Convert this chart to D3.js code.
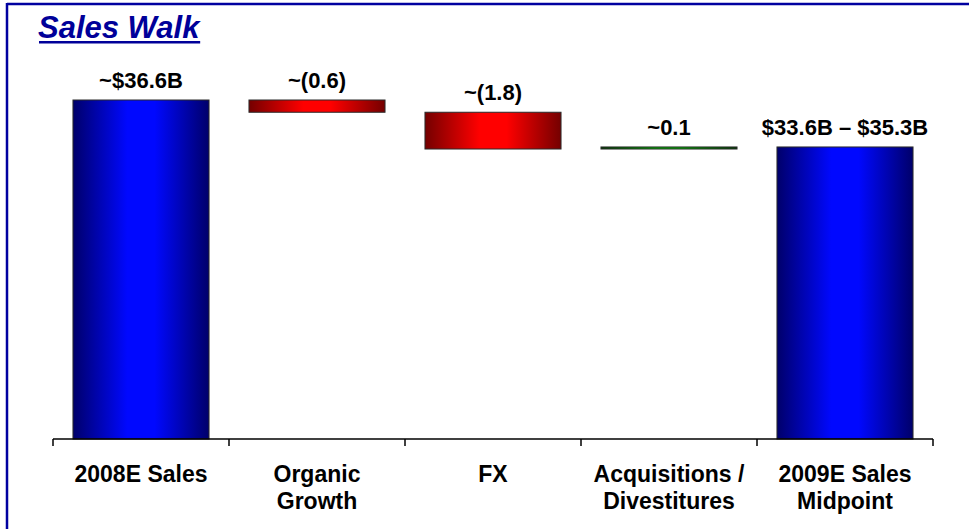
<!DOCTYPE html>
<html>
<head>
<meta charset="utf-8">
<script src="https://cdn.jsdelivr.net/npm/d3@7"></script>
<style>
  html, body { margin: 0; padding: 0; background: #fff; }
  svg { display: block; font-family: Arial, "Liberation Sans", sans-serif; }
</style>
</head>
<body>
<svg id="chart" width="969" height="529"></svg>
<script>
// Sales walk: 2008E sales bridged to the 2009E midpoint ($B)
const categories = ["2008E Sales", "Organic\nGrowth", "FX", "Acquisitions /\nDivestitures", "2009E Sales\nMidpoint"];
const values = [36.6, -0.6, -1.8, 0.1, 34.3];
const kinds = ["total", "delta", "delta", "delta", "total"];
const valueLabels = ["~$36.6B", "~(0.6)", "~(1.8)", "~0.1", "$33.6B \u2013 $35.3B"];
const yDomain = [20, 36.6];

const svg = d3.select("#chart");

// frame: top and left rules
svg.append("line").attr("x1", 7).attr("x2", 969).attr("y1", 4).attr("y2", 4)
  .attr("stroke", "#0000a0").attr("stroke-width", 2.5);
svg.append("line").attr("x1", 7).attr("x2", 7).attr("y1", 3).attr("y2", 529)
  .attr("stroke", "#0000a0").attr("stroke-width", 2.5);

// title
const title = svg.append("text")
  .attr("x", 38).attr("y", 38)
  .attr("font-size", 31).attr("font-weight", "bold").attr("font-style", "italic")
  .attr("fill", "#000099")
  .text("Sales Walk");
const tb = title.node().getBBox();
svg.append("rect").attr("x", tb.x + 1).attr("y", 41).attr("width", tb.width - 2).attr("height", 2.5)
  .attr("fill", "#000099");

// gradients: dark edges rising to a bright centre band
const defs = svg.append("defs");
function grad(id, edge, mid) {
  const g = defs.append("linearGradient").attr("id", id)
    .attr("x1", "0%").attr("x2", "100%").attr("y1", "0%").attr("y2", "0%");
  [[0, edge], [0.4, mid], [0.5, mid], [0.6, mid], [1, edge]].forEach(([o, c]) =>
    g.append("stop").attr("offset", o).attr("stop-color", c));
}
grad("gBlue", "#00006a", "#0008ff");
grad("gRed", "#740000", "#ff0000");
grad("gGreen", "#003800", "#00b000");

const x = d3.scaleBand().domain(categories).range([53, 933])
  .paddingInner(0.227).paddingOuter(0.1135);
const y = d3.scaleLinear().domain(yDomain).range([439, 100]);

// build waterfall segments
let running = 0;
const bars = categories.map((c, i) => {
  let lo, hi, fill;
  if (kinds[i] === "total") {
    running = values[i];
    lo = yDomain[0]; hi = values[i]; fill = "url(#gBlue)";
  } else {
    const start = running;
    running = start + values[i];
    lo = Math.min(start, running); hi = Math.max(start, running);
    fill = values[i] < 0 ? "url(#gRed)" : "url(#gGreen)";
  }
  return { c, lo, hi, fill, label: valueLabels[i] };
});

svg.selectAll("rect.bar").data(bars).join("rect")
  .attr("class", "bar")
  .attr("x", d => x(d.c))
  .attr("width", x.bandwidth())
  .attr("y", d => y(d.hi))
  .attr("height", d => y(d.lo) - y(d.hi))
  .attr("fill", d => d.fill)
  .attr("stroke", "#2a2a2a").attr("stroke-width", 1);

svg.selectAll("text.val").data(bars).join("text")
  .attr("class", "val")
  .attr("x", d => x(d.c) + x.bandwidth() / 2)
  .attr("y", d => y(d.hi) - 12)
  .attr("text-anchor", "middle")
  .attr("font-size", 22).attr("font-weight", "bold").attr("fill", "#000")
  .text(d => d.label);

// category axis with ticks between bands
const step = x.step();
const x0 = x.range()[0];
svg.append("line").attr("x1", x0).attr("x2", x.range()[1]).attr("y1", 439).attr("y2", 439)
  .attr("stroke", "#000").attr("stroke-width", 1.5);
svg.selectAll("line.tick").data(d3.range(categories.length + 1)).join("line")
  .attr("class", "tick")
  .attr("x1", i => x0 + i * step).attr("x2", i => x0 + i * step)
  .attr("y1", 439).attr("y2", 446)
  .attr("stroke", "#000").attr("stroke-width", 1.5);

const cat = svg.selectAll("text.cat").data(categories).join("text")
  .attr("class", "cat")
  .attr("text-anchor", "middle")
  .attr("font-size", 23).attr("font-weight", "bold").attr("fill", "#000");
cat.each(function (c) {
  const t = d3.select(this);
  c.split("\n").forEach((line, k) => {
    t.append("tspan")
      .attr("x", x(c) + x.bandwidth() / 2)
      .attr("y", 482 + k * 27)
      .text(line);
  });
});
</script>
</body>
</html>
